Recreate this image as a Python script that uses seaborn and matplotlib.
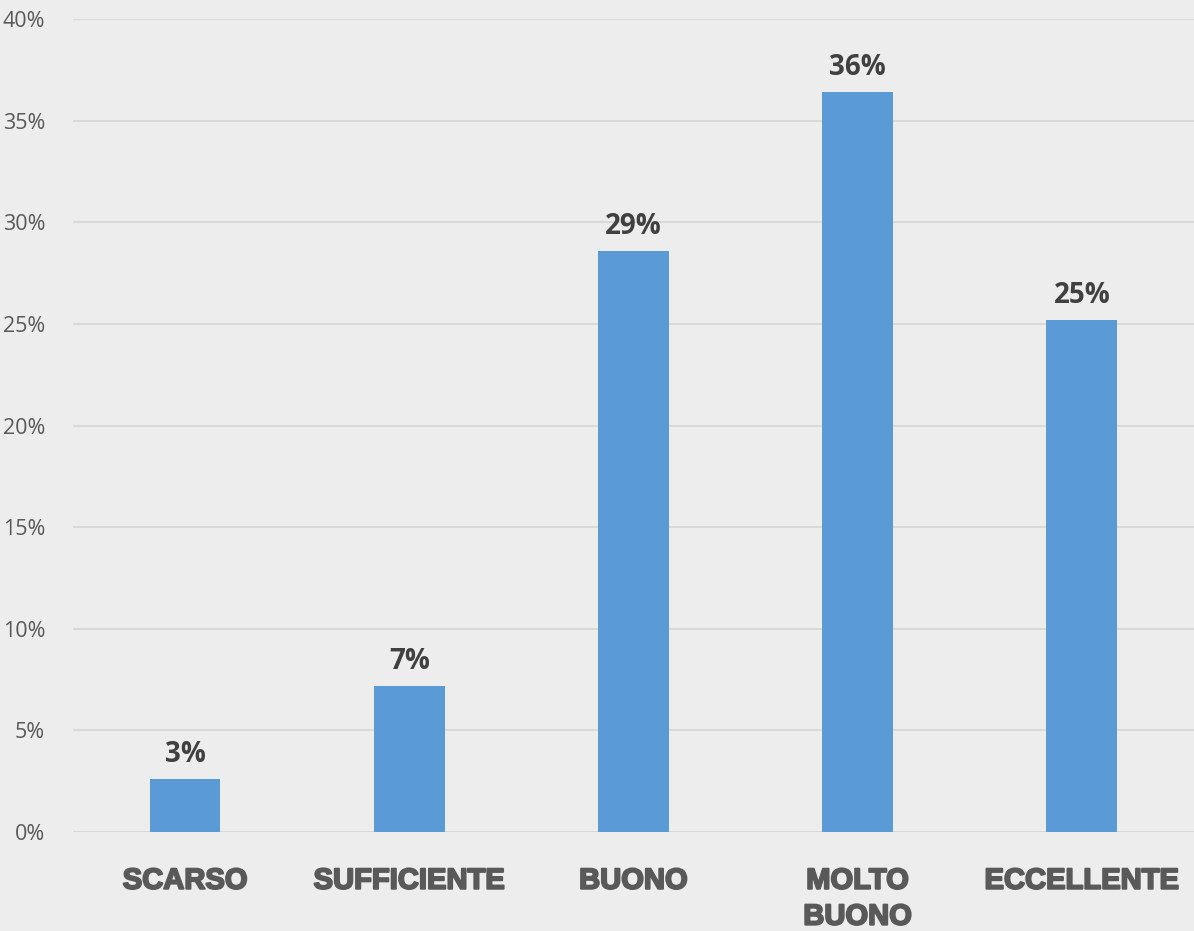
import matplotlib
matplotlib.use("Agg")
import matplotlib.pyplot as plt
import matplotlib.patheffects as pe
import seaborn as sns
import pandas as pd
from matplotlib.ticker import PercentFormatter, MultipleLocator

categories = ["SCARSO", "SUFFICIENTE", "BUONO", "MOLTO\nBUONO", "ECCELLENTE"]
values = [0.026, 0.072, 0.286, 0.364, 0.252]

bg = "#EDEDED"
bar_color = "#5B9BD5"

sns.set_theme(style="white")
plt.rcParams["font.family"] = ["Liberation Sans", "DejaVu Sans"]

df = pd.DataFrame({"categoria": categories, "valore": values})

fig = plt.figure(figsize=(11.94, 9.31), dpi=100, facecolor=bg)
ax = fig.add_axes([0.0611, 0.1063, 0.9389, 0.8733])
ax.set_facecolor(bg)

sns.barplot(data=df, x="categoria", y="valore", color=bar_color, width=0.316,
            saturation=1, ax=ax, zorder=3, linewidth=0, edgecolor="none")

ax.set_ylim(0, 0.40)
ax.set_xlim(-0.5, 4.5)
ax.yaxis.set_major_locator(MultipleLocator(0.05))
ax.yaxis.set_major_formatter(PercentFormatter(1.0, decimals=0))
ax.grid(axis="y", color="#D9D9D9", linewidth=1.5, zorder=0)
ax.grid(axis="x", visible=False)
for s in ax.spines.values():
    s.set_visible(False)

ax.set_xlabel("")
ax.set_ylabel("")
ax.tick_params(axis="y", length=0, pad=20, labelsize=15.5, labelcolor="#595959")
ax.tick_params(axis="x", length=0, pad=25, labelsize=21, labelcolor="#595959")
for lbl in ax.get_yticklabels():
    lbl.set_fontfamily(["Open Sans", "DejaVu Sans"])
for lbl in ax.get_xticklabels():
    lbl.set_fontweight("bold")
    lbl.set_linespacing(1.36)
    lbl.set_path_effects([pe.withStroke(linewidth=1.4, foreground="#595959")])

ax.bar_label(ax.containers[0], labels=[f"{v:.0%}" for v in values], padding=7,
             fontsize=20, fontweight="bold", color="#404040",
             family=["Open Sans", "DejaVu Sans"])

fig.savefig("out.png", dpi=100, facecolor=bg)
